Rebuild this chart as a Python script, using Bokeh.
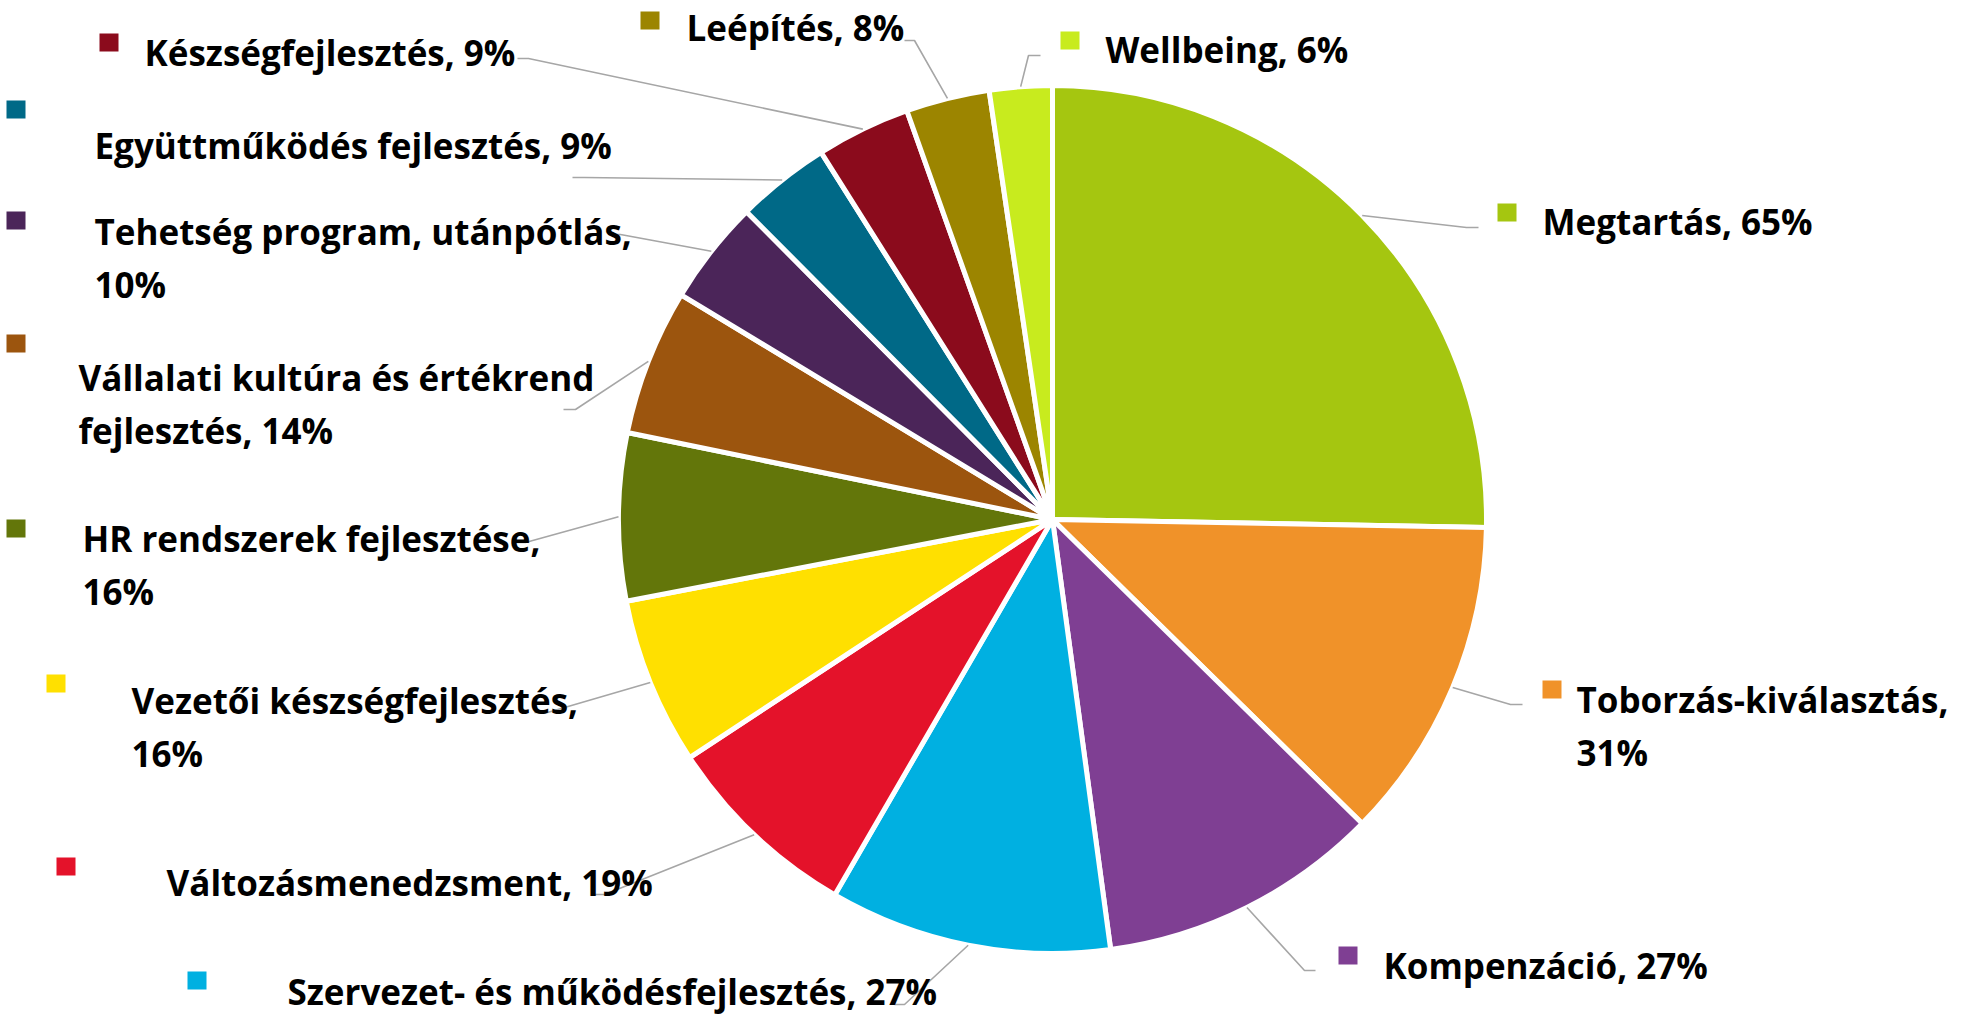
import math
from bokeh.plotting import figure
from bokeh.models import Range1d
from bokeh.core.properties import value
from bokeh.embed import file_html
from bokeh.resources import INLINE

# ---------------- data ----------------
categories = [
    "Megtartás", "Toborzás-kiválasztás", "Kompenzáció",
    "Szervezet- és működésfejlesztés", "Változásmenedzsment",
    "Vezetői készségfejlesztés", "HR rendszerek fejlesztése",
    "Vállalati kultúra és értékrend fejlesztés", "Tehetség program, utánpótlás",
    "Együttműködés fejlesztés", "Készségfejlesztés", "Leépítés", "Wellbeing",
]
percents = [65, 31, 27, 27, 19, 16, 16, 14, 10, 9, 9, 8, 6]
colors = [
    "#A5C610", "#F09229", "#7F3F93", "#00B0E1", "#E4122A", "#FFE000",
    "#63760A", "#9C550E", "#4B2559", "#006987", "#8B0B1C", "#9C8500", "#C8EB1E",
]

# ---------------- layout (screen px of the page, y downwards) ----------------
CX, CY, R = 1060, 527, 434
# words on first line (0 = single line)
wrap_words = [0, 1, 0, 0, 0, 2, 3, 4, 3, 0, 0, 0, 0]
text_pos = [  # x, first baseline
    (1550, 229), (1584, 707), (1391, 973), (295, 999), (174, 890),
    (139, 708), (90, 546), (86, 385), (102, 239), (102, 153), (152, 60),
    (694, 35), (1113, 57),
]
square_pos = [  # left, top
    (1505, 211), (1550, 688), (1346, 954), (195, 979), (64, 865),
    (54, 682), (14, 527), (14, 342), (14, 219), (14, 108), (107, 41),
    (648, 19), (1068, 39),
]
leader_elbow = [  # elbow point, end point
    ((1474, 235), (1486, 235)), ((1518, 712), (1530, 712)),
    ((1312, 978), (1323, 978)), ((912, 1012), (902, 1012)),
    ((612, 902), (600, 902)), ((555, 720), (542, 720)),
    ((533, 550), (522, 550)), ((583, 417), (571, 417)),
    ((628, 242), (616, 242)), ((592, 185), (580, 185)),
    ((536, 66), (525, 66)), ((922, 48), (912, 48)),
    ((1036, 63), (1048, 63)),
]
LINE_GAP = 53
FONT = value("Open Sans")

W, H = 1948, 1019
p = figure(width=W, height=H, output_backend="svg", toolbar_location=None,
           x_range=Range1d(8, 8 + W), y_range=Range1d(-(8 + H), -8),
           x_axis_location=None, y_axis_location=None, min_border=0)
p.grid.visible = False
p.outline_line_color = None
p.background_fill_color = "white"
p.border_fill_color = "white"

total = sum(percents)
cum = 0
starts, ends, mids = [], [], []
for v in percents:
    a0 = math.pi / 2 - 2 * math.pi * cum / total
    cum += v
    a1 = math.pi / 2 - 2 * math.pi * cum / total
    starts.append(a0)
    ends.append(a1)
    mids.append((a0 + a1) / 2)

p.wedge(x=[CX] * len(percents), y=[-CY] * len(percents), radius=R,
        start_angle=starts, end_angle=ends, direction="clock",
        fill_color=colors, line_color="white", line_width=5)

# leader lines
xs, ys = [], []
for m, (el, en) in zip(mids, leader_elbow):
    sx = CX + R * math.cos(m)
    sy = -CY + R * math.sin(m)
    xs.append([sx, el[0], en[0]])
    ys.append([sy, -el[1], -en[1]])
p.multi_line(xs=xs, ys=ys, line_color="#A6A6A6", line_width=1.6)

# legend squares
p.rect(x=[sx + 9.5 for sx, sy in square_pos], y=[-(sy + 9) for sx, sy in square_pos],
       width=19, height=18, fill_color=colors, line_color=None)

# labels
tx, ty, tt = [], [], []
for cat, v, k, (x0, y0) in zip(categories, percents, wrap_words, text_pos):
    full = f"{cat}, {v}%"
    if k:
        words = full.split(" ")
        lines = [" ".join(words[:k]), " ".join(words[k:])]
    else:
        lines = [full]
    for i, ln in enumerate(lines):
        tx.append(x0)
        ty.append(-(y0 + i * LINE_GAP))
        tt.append(ln)
p.text(x=tx, y=ty, text=tt, text_font=FONT, text_font_style="bold",
       text_font_size="35px", text_baseline="alphabetic", text_align="left",
       text_color="black")

open("out.html", "w").write(file_html(p, INLINE))
